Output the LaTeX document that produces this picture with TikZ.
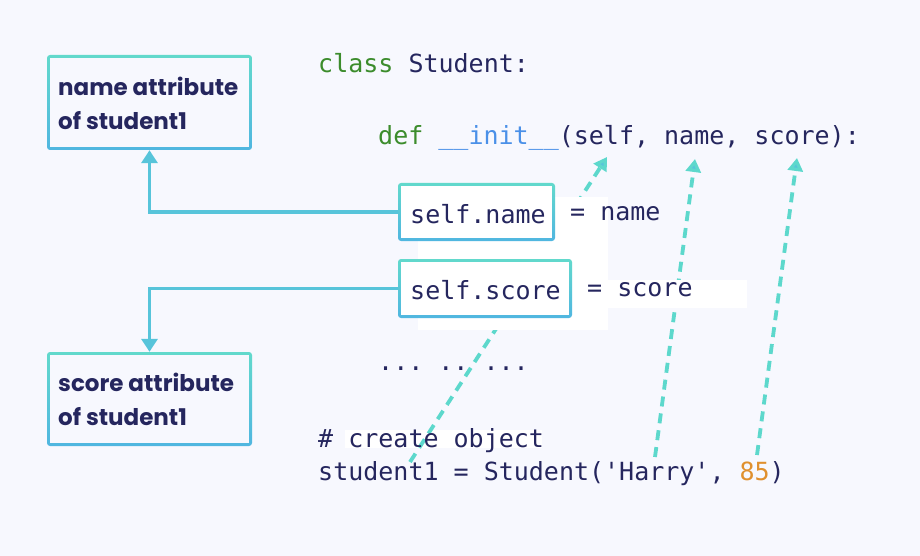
\documentclass[tikz,border=0pt]{standalone}
\usepackage{fontspec}
\setmonofont{DejaVu Sans Mono}
\setsansfont{Poppins}
\usetikzlibrary{arrows.meta}
\definecolor{bg}{HTML}{F7F8FE}
\definecolor{ink}{HTML}{25265E}
\definecolor{kw}{HTML}{3C8C2C}
\definecolor{fn}{HTML}{4A90E8}
\definecolor{num}{HTML}{E0902E}
\definecolor{tealA}{HTML}{62D9CC}
\definecolor{blueB}{HTML}{50B6E0}
\definecolor{conn}{HTML}{57C4DA}
\definecolor{dashc}{HTML}{5DD8CC}
\begin{document}
\begin{tikzpicture}[x=1pt,y=-1pt,
  code/.style={font=\ttfamily\fontsize{25}{30}\selectfont, text=ink, anchor=west, inner sep=0pt},
  lbl/.style={font=\sffamily\bfseries\fontsize{23}{34}\selectfont, text=ink, anchor=west, align=left, inner sep=0pt},
  frame/.style={rectangle, rounded corners=3pt, top color=tealA, bottom color=blueB, inner sep=0pt},
  solidconn/.style={conn, line width=3.5pt, -{Triangle[width=16pt,length=13pt]}},
  dashconn/.style={dashc, line width=3.8pt, dash pattern=on 10pt off 7pt, -{Triangle[width=15pt,length=13pt,fill=conn]}},
  whitebg/.style={fill=white, draw=none}
]
\fill[bg] (0,0) rectangle (920,556);
\useasboundingbox (0,0) rectangle (920,556);

% white backdrop behind comment
\fill[whitebg] (345,430) rectangle (542,448);

% end points of the dashed connectors
\coordinate (srcObj) at (410,462);
\coordinate (srcHarry) at (655,457);
\coordinate (src85) at (757,455);
\coordinate (pSelf) at (607,157);
\coordinate (pName) at (695,159);
\coordinate (pScore) at (797,158);

\draw[dashconn] (srcObj) -- (pSelf);
\draw[dashconn] (srcHarry) -- (pName);
\draw[dashconn] (src85) -- (pScore);

% white backdrops
\fill[whitebg] (418,197) rectangle (608,330);
\fill[whitebg] (608,280) rectangle (747,308);

% frames
\node[frame, minimum width=205pt, minimum height=95pt] (nameBox) at (149.5,102.5) {};
\node[frame, minimum width=205pt, minimum height=94pt] (scoreBox) at (149.5,399) {};
\node[frame, minimum width=157pt, minimum height=58pt] (selfName) at (476.5,212) {};
\node[frame, minimum width=174pt, minimum height=59pt] (selfScore) at (485,288.5) {};
\fill[bg] ([xshift=3.5pt,yshift=-3.5pt]nameBox.north west) rectangle ([xshift=-3.5pt,yshift=3.5pt]nameBox.south east);
\fill[bg] ([xshift=3.5pt,yshift=-3.5pt]scoreBox.north west) rectangle ([xshift=-3.5pt,yshift=3.5pt]scoreBox.south east);
\fill[white] ([xshift=3.5pt,yshift=-3.5pt]selfName.north west) rectangle ([xshift=-3.5pt,yshift=3.5pt]selfName.south east);
\fill[white] ([xshift=3.5pt,yshift=-3.5pt]selfScore.north west) rectangle ([xshift=-3.5pt,yshift=3.5pt]selfScore.south east);

% labels
\node[lbl] (nameLbl) at (58,103) {name attribute\\of student1};
\node[lbl] (scoreLbl) at (58,399) {score attribute\\of student1};

% solid connectors
\draw[solidconn] (selfName.west) -| (nameBox.south);
\draw[solidconn] (selfScore.west) -| (scoreBox.north);

% code
\node[code] (cls) at (318,63) {\textcolor{kw}{class} Student:};
\node[code] (def) at (378,138) {\textcolor{kw}{def} \textcolor{fn}{\_\_init\_\_}(self, name, score):};
\node[code] (sn) at (410,214) {self.name};
\node[code] (eqn) at (570,214) {= name};
\node[code] (ss) at (410,290) {self.score};
\node[code] (eqs) at (587,290) {= score};
\node[code] (dots) at (378,369) {... .. ...};
\node[code] (cmt) at (318,441) {\# create object};
\node[code] (obj) at (318,474) {student1 = Student('Harry', \textcolor{num}{85})};
\end{tikzpicture}
\end{document}
